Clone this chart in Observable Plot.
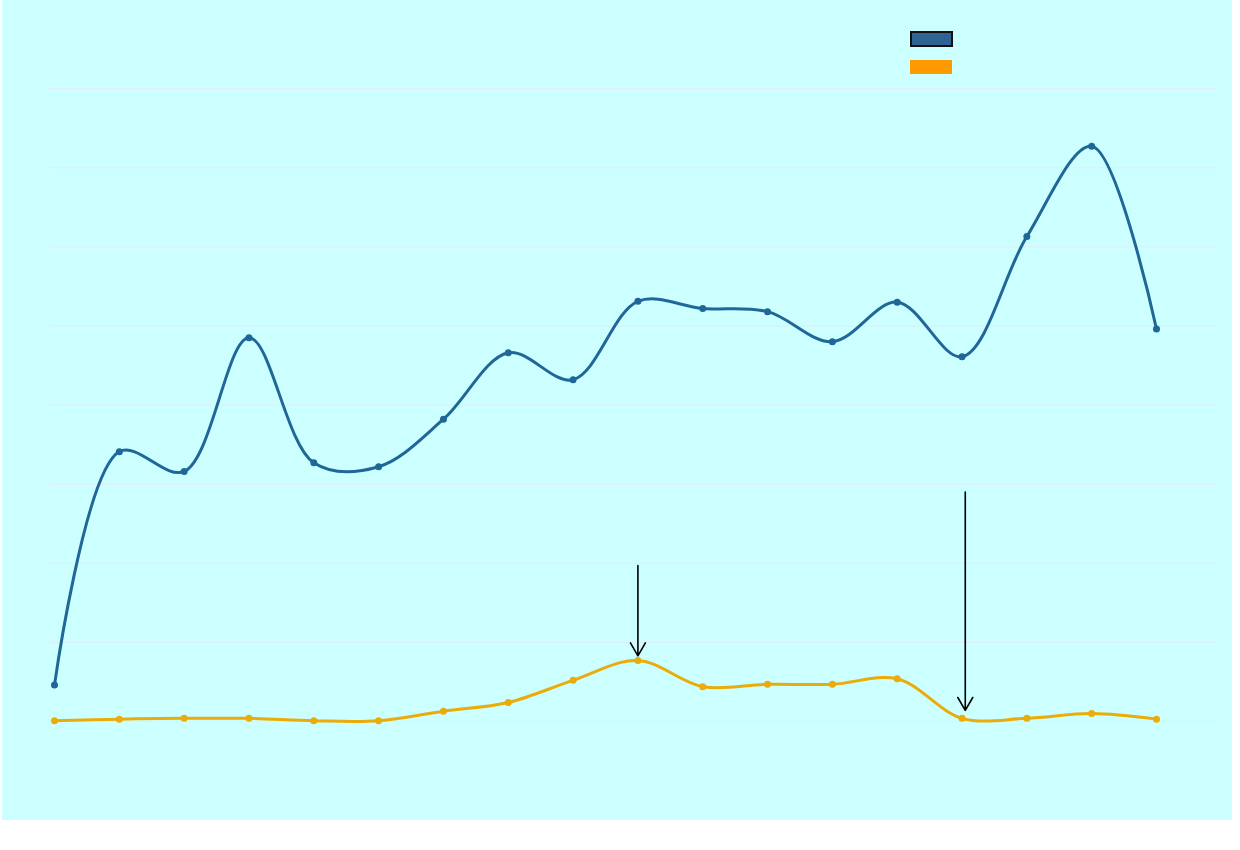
<!DOCTYPE html>
<html><head><meta charset="utf-8">
<script src="https://cdn.jsdelivr.net/npm/d3@7"></script>
<script src="https://cdn.jsdelivr.net/npm/@observablehq/plot@0.6"></script>
<style>
body{margin:0;background:#fff;font-family:"DejaVu Sans",sans-serif}
#wrap{position:relative;margin-left:2px;width:1230px}
.sw{position:absolute;left:908px;width:42px;height:14px}
</style></head><body>
<div id="wrap">
<div class="sw" style="top:31px;background:#2f6396;border:2px solid #111;width:39px;height:12px"></div>
<div class="sw" style="top:60px;background:#ff9900"></div>
</div>
<script>
const idx = d3.range(18);
const blue = [0.46,3.41,3.16,4.85,3.27,3.22,3.82,4.66,4.32,5.31,5.22,5.18,4.80,5.30,4.61,6.13,7.27,4.96];
const orange = [0.01,0.03,0.04,0.04,0.01,0.01,0.13,0.24,0.52,0.77,0.44,0.47,0.47,0.54,0.04,0.04,0.10,0.03];
const grid = [0,1,2,3,4,5,6,7,8];
const arrows = [{x:9,y1:1.97,y2:0.83},{x:14.05,y1:2.90,y2:0.14}];

const b = idx.map(i => ({i, v: blue[i]}));
const o = idx.map(i => ({i, v: orange[i]}));

const chart = Plot.plot({
  width: 1230, height: 820,
  marginLeft: 52, marginRight: 76, marginTop: 88, marginBottom: 99,
  style: {background: "#ccffff"},
  x: {domain: [0, 17], axis: null},
  y: {domain: [0, 8], axis: null},
  marks: [
    Plot.ruleY(grid, {stroke: "#e4ecf8", strokeWidth: 1.2, insetLeft: -4, insetRight: -62}),
    Plot.line(o, {x: "i", y: "v", stroke: "#eaac0a", strokeWidth: 3, curve: "catmull-rom"}),
    Plot.dot(o, {x: "i", y: "v", fill: "#eaac0a", r: 3.5}),
    Plot.line(b, {x: "i", y: "v", stroke: "#1f6797", strokeWidth: 3, curve: "catmull-rom"}),
    Plot.dot(b, {x: "i", y: "v", fill: "#1f6797", r: 3.5}),
    Plot.arrow(arrows, {x1: "x", x2: "x", y1: "y1", y2: "y2", stroke: "black", strokeWidth: 1.6, headLength: 14})
  ]
});
document.getElementById("wrap").prepend(chart);
</script>
</body></html>
